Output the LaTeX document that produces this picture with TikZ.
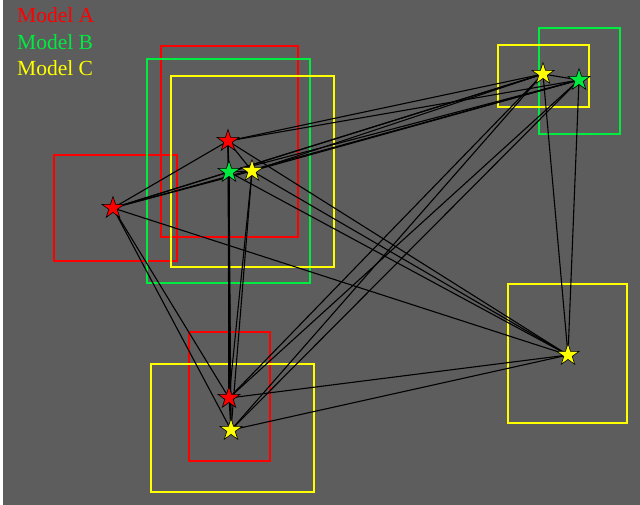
\documentclass[tikz,border=0pt]{standalone}
\usepackage{fontspec}
\setmainfont{Liberation Serif}
\usetikzlibrary{shapes.geometric}

\definecolor{bggray}{RGB}{93,93,93}
\definecolor{cA}{RGB}{255,0,0}
\definecolor{cB}{RGB}{0,235,64}
\definecolor{cC}{RGB}{255,255,0}

\tikzset{
  region/.style={line width=2pt},
  link/.style={black, line width=1.1pt},
  site/.style={star, star points=5, star point ratio=2.6, minimum size=23pt,
               inner sep=0pt, draw=black, line width=0.6pt},
  legend/.style={anchor=base west, inner sep=0pt, font=\fontsize{21.5}{24}\selectfont}
}

\begin{document}
\begin{tikzpicture}[x=1pt,y=-1pt]
  % canvas
  \useasboundingbox (0,0) rectangle (640,505);
  \fill[white] (0,0) rectangle (640,505);
  \fill[bggray] (3,0) rectangle (640,505);

  % regions
  \draw[region, cA] (54,155) rectangle (177,261);
  \draw[region, cA] (161,46) rectangle (298,237);
  \draw[region, cA] (189,332) rectangle (270,461);
  \draw[region, cB] (147,59) rectangle (310,283);
  \draw[region, cB] (539,28) rectangle (620,134);
  \draw[region, cC] (171,76) rectangle (334,267);
  \draw[region, cC] (498,45) rectangle (589,107);
  \draw[region, cC] (508,284) rectangle (627,423);
  \draw[region, cC] (151,364) rectangle (314,492);

  % site positions
  \coordinate (a1) at (113,208);
  \coordinate (a2) at (228,141);
  \coordinate (a3) at (229,398);
  \coordinate (b1) at (229,172);
  \coordinate (b2) at (579,80);
  \coordinate (c1) at (252,171);
  \coordinate (c2) at (543,74);
  \coordinate (c3) at (568,355);
  \coordinate (c4) at (231,430);

  % every site linked to every other
  \foreach \p/\rest in {a1/{a2,a3,b1,b2,c1,c2,c3,c4},
                        a2/{a3,b1,b2,c1,c2,c3,c4},
                        a3/{b1,b2,c1,c2,c3,c4},
                        b1/{b2,c1,c2,c3,c4},
                        b2/{c1,c2,c3,c4},
                        c1/{c2,c3,c4},
                        c2/{c3,c4},
                        c3/{c4}}{
    \foreach \q in \rest {
      \draw[link] (\p) -- (\q);
    }
  }

  % site markers
  \node[site, fill=cA] (sa1) at (a1) {};
  \node[site, fill=cA] (sa2) at (a2) {};
  \node[site, fill=cA] (sa3) at (a3) {};
  \node[site, fill=cB] (sb1) at (b1) {};
  \node[site, fill=cB] (sb2) at (b2) {};
  \node[site, fill=cC] (sc1) at (c1) {};
  \node[site, fill=cC] (sc2) at (c2) {};
  \node[site, fill=cC] (sc3) at (c3) {};
  \node[site, fill=cC] (sc4) at (c4) {};

  % legend
  \node[legend, cA] (la) at (17,23) {Model A};
  \node[legend, cB] (lb) at (17,49.5) {Model B};
  \node[legend, cC] (lc) at (17,76) {Model C};
\end{tikzpicture}
\end{document}
